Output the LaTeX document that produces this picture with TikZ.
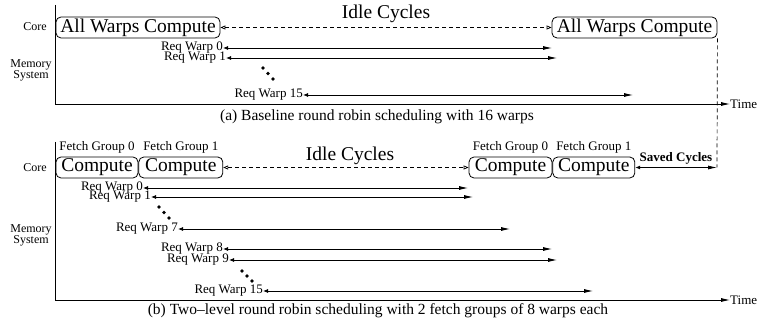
\documentclass[tikz,border=0pt]{standalone}
\usepackage{fontspec}
\setmainfont{Liberation Serif}
\usetikzlibrary{arrows.meta,positioning}

\begin{document}
\begin{tikzpicture}[
    x=1pt, y=-1pt,
    caixa/.style={draw=black, rounded corners=5pt, line width=0.8pt, minimum height=21pt,
                  inner sep=1pt, font=\fontsize{19.5}{21}\selectfont},
    grande/.style={inner sep=0pt, font=\fontsize{19.5}{21}\selectfont},
    pequeno/.style={inner sep=0pt, font=\fontsize{13}{13}\selectfont},
    lado/.style={inner sep=0pt, align=center, font=\fontsize{12}{11.5}\selectfont},
    legenda/.style={inner sep=0pt, font=\fontsize{15.5}{16}\selectfont},
    pedido/.style={pequeno, anchor=east},
    seta/.style={line width=0.8pt, {Latex[length=5pt,width=4pt]}-{Latex[length=9pt,width=4pt]}},
    ociosa/.style={line width=0.7pt, dashed, dash pattern=on 4pt off 3pt,
                   {Triangle[open,length=5pt,width=4pt]}-{Triangle[open,length=5pt,width=4pt]}},
    tracejado/.style={line width=0.7pt, dash pattern=on 4pt off 3pt},
    eixo/.style={line width=0.8pt, -{Latex[length=9pt,width=4pt]}},
    ponto/.style={circle, fill=black, inner sep=0pt, minimum size=3.6pt},
]
\useasboundingbox (0,0) rectangle (762,328);

% (a) baseline
\node[lado, anchor=east] (nucleoa) at (47,27) {Core};
\node[lado] (memoriaa) at (31,70.5) {Memory\\System};
\node[caixa, minimum width=164pt] (todosa) at (138,27.5) {All Warps Compute};
\node[caixa, minimum width=165pt] (todosb) at (634.5,27.5) {All Warps Compute};
\node[grande] (ociosoa) at (386,14) {Idle Cycles};
\draw[ociosa] (todosa) -- (todosb);

\node[pedido] (ra0) at (223,48) {Req Warp 0};
\node[pedido] (ra1) at (226,58) {Req Warp 1};
\node[pedido] (ra15) at (303,95) {Req Warp 15};
\coordinate (fa0) at (552,48);
\coordinate (fa1) at (557,58);
\coordinate (fa15) at (633,95);
\draw[seta] (ra0.east) -- (fa0);
\draw[seta] (ra1.east) -- (fa1);
\draw[seta] (ra15.east) -- (fa15);
\node[ponto] (pa1) at (263,68) {};
\node[ponto] (pa2) at (268,73.5) {};
\node[ponto] (pa3) at (273,79) {};

\coordinate (topoa) at (55,5);
\node[pequeno, anchor=west] (tempoa) at (730,104) {Time};
\draw[eixo] (topoa) |- (tempoa.west);
\node[legenda] (legendaa) at (377,117) {(a) Baseline round robin scheduling with 16 warps};

% (b) two-level
\node[lado, anchor=east] (nucleob) at (47,167.5) {Core};
\node[lado] (memoriab) at (31,235.5) {Memory\\System};
\node[caixa, minimum width=82pt] (comp0) at (97,167.5) {Compute};
\node[caixa, minimum width=84pt, right=0pt of comp0] (comp1) {Compute};
\node[caixa, minimum width=83pt] (comp2) at (510.5,167.5) {Compute};
\node[caixa, minimum width=82pt, right=0pt of comp2] (comp3) {Compute};
\node[pequeno, above=3pt of comp0] (grupo0) {Fetch Group 0};
\node[pequeno, above=3pt of comp1] (grupo1) {Fetch Group 1};
\node[pequeno, above=3pt of comp2] (grupo2) {Fetch Group 0};
\node[pequeno, above=3pt of comp3] (grupo3) {Fetch Group 1};
\node[grande] (ociosob) at (350,156) {Idle Cycles};
\draw[ociosa] (comp1) -- (comp2);

\coordinate (fimsalvo) at (717,167.5);
\draw[seta] (comp3.east) -- (fimsalvo);
\node[pequeno, font=\fontsize{13}{13}\selectfont\bfseries] (salvo) at (676,158) {Saved Cycles};
\draw[tracejado] (todosb.south east) -- (fimsalvo);

\node[pedido] (rb0) at (143,188) {Req Warp 0};
\node[pedido] (rb1) at (151,197) {Req Warp 1};
\node[pedido] (rb7) at (178,229) {Req Warp 7};
\node[pedido] (rb8) at (223,249) {Req Warp 8};
\node[pedido] (rb9) at (229,260) {Req Warp 9};
\node[pedido] (rb15) at (263,291) {Req Warp 15};
\coordinate (fb0) at (468,188);
\coordinate (fb1) at (473,197);
\coordinate (fb7) at (510,229);
\coordinate (fb8) at (552,249);
\coordinate (fb9) at (557,260);
\coordinate (fb15) at (593,291);
\foreach \w in {0,1,7,8,9,15}
  \draw[seta] (rb\w.east) -- (fb\w);
\node[ponto] (pb1) at (159,207) {};
\node[ponto] (pb2) at (164,212.5) {};
\node[ponto] (pb3) at (169,218) {};
\node[ponto] (pb4) at (242,271) {};
\node[ponto] (pb5) at (247,276) {};
\node[ponto] (pb6) at (252,281) {};

\coordinate (topob) at (55,142);
\node[pequeno, anchor=west] (tempob) at (730,300) {Time};
\draw[eixo] (topob) |- (tempob.west);
\node[legenda] (legendab) at (378,311) {(b) Two--level round robin scheduling with 2 fetch groups of 8 warps each};
\end{tikzpicture}
\end{document}
